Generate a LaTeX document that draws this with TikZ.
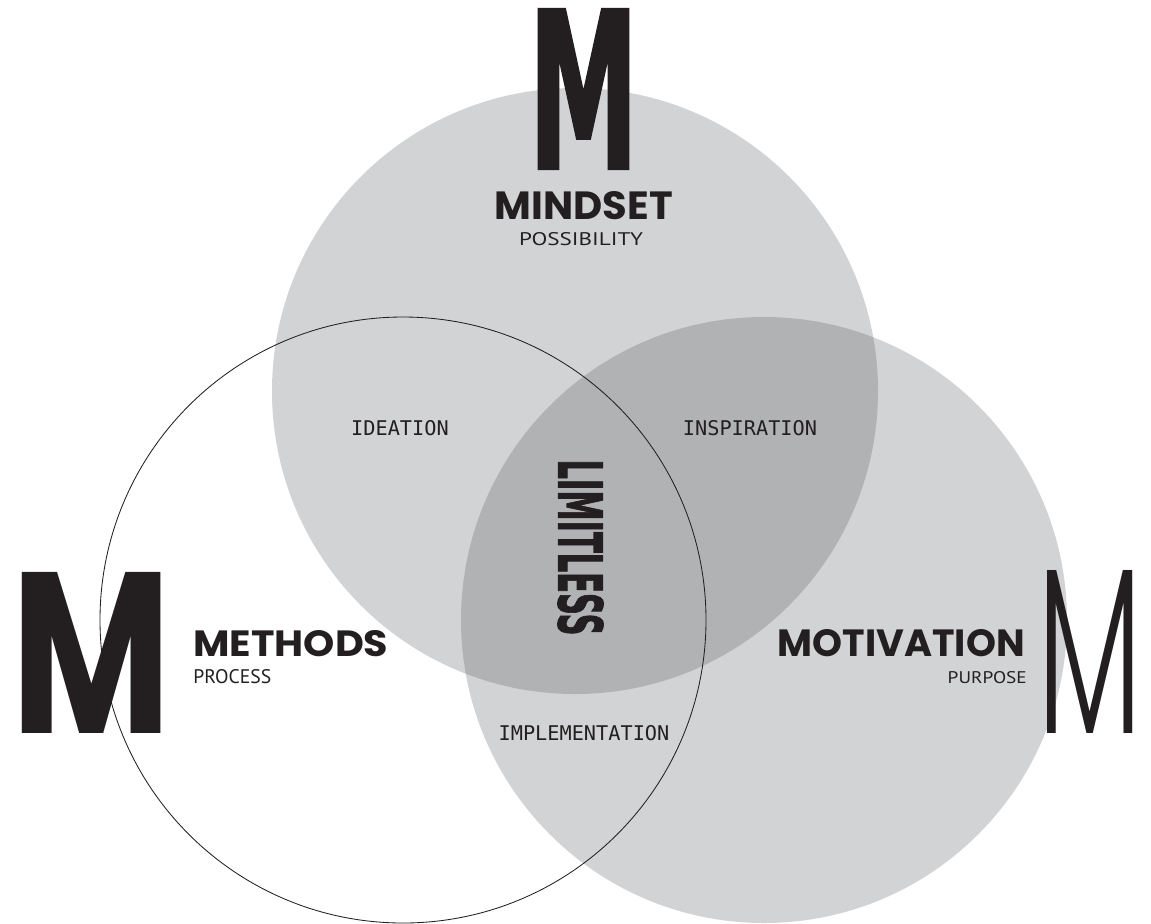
\documentclass[tikz,border=0pt]{standalone}
\usepackage{fontspec}
\newfontfamily\headfont{Poppins}
\newfontfamily\thinfont{Poppins Light}
\newfontfamily\subfont{PT Sans}
\newfontfamily\pairfont{DejaVu Sans Mono}
\newfontfamily\heavyfont{DejaVu Sans Bold}[FakeBold=2]
\definecolor{ink}{HTML}{231F20}
\definecolor{disc}{HTML}{D1D3D4}
\definecolor{overlap}{HTML}{B1B2B4}
\newlength\pxu
\setlength\pxu{0.025cm}
\newcommand\fitto[3]{\resizebox{#1\pxu}{#2\pxu}{#3}}

\begin{document}
\begin{tikzpicture}[x=0.025cm, y=-0.025cm,
		lbl/.style={inner sep=0pt, text=ink},
		pair/.style={lbl, font=\pairfont\fontsize{14.4}{14.4}\selectfont}]
			%%%%% START %%%%%
			\useasboundingbox[fill=white] (0,0) rectangle (1151,923);
			
			\coordinate (mindset) at (575,391);
			\coordinate (methods) at (403,620);
			\coordinate (motivation) at (764,620);
			
			\fill[disc] (mindset) circle (303);
			\fill[disc] (motivation) circle (303);
			\begin{scope}
				\clip (mindset) circle (303);
				\fill[overlap] (motivation) circle (303);
			\end{scope}
			\draw[ink, line width=0.6pt] (methods) circle (303);
			
			\node[lbl] (mtop) at (583.5,89) {\fitto{110}{158}{\heavyfont M}};
			\node[lbl] (mindsetname) at (584,206) {\fitto{178}{28}{\headfont\bfseries MINDSET}};
			\node[lbl] (mindsetsub) at (581,239.5) {\fitto{124}{13}{\subfont POSSIBILITY}};
			
			\node[lbl] (mleft) at (92,652.5) {\fitto{160}{161}{\headfont\bfseries M}};
			\node[lbl, anchor=west] (methodsname) at (193,644) {\fitto{195}{26}{\headfont\bfseries METHODS}};
			\node[lbl, anchor=west] (methodssub) at (193,677) {\fitto{78}{14}{\subfont PROCESS}};
			
			\node[lbl] (mright) at (1090.5,651.5) {\fitto{105}{163}{\thinfont M}};
			\node[lbl, anchor=east] (motivname) at (1025,643.5) {\fitto{247}{27}{\headfont\bfseries MOTIVATION}};
			\node[lbl, anchor=east] (motivsub) at (1027,678) {\fitto{79}{12}{\subfont PURPOSE}};
			
			\node[pair] (ideation) at (400,428) {IDEATION};
			\node[pair] (inspiration) at (750,428) {INSPIRATION};
			\node[pair] (implementation) at (584,733.5) {IMPLEMENTATION};
			
			\node[lbl, rotate=-90] (limitless) at (580.5,547.5) {\fitto{176}{45}{\heavyfont LIMITLESS}};
			%%%%% END %%%%%
\end{tikzpicture}
\end{document}
